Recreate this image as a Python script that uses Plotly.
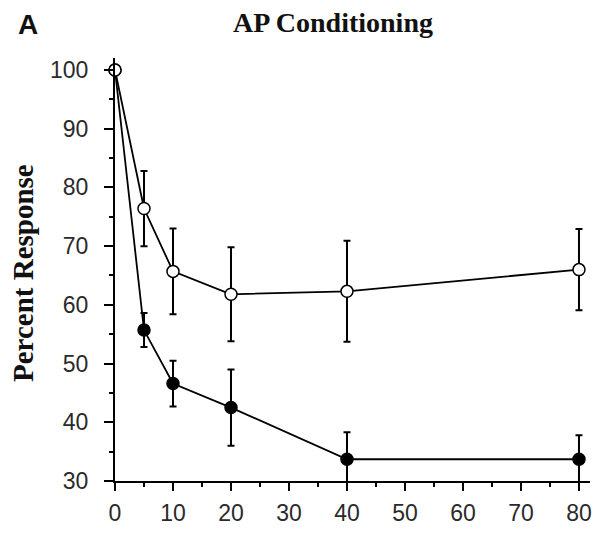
import plotly.graph_objects as go

time_points = [0, 5, 10, 20, 40, 80]
open_values = [100, 76.4, 65.7, 61.8, 62.3, 66.0]
open_errors = [0, 6.4, 7.3, 8.0, 8.6, 6.9]
filled_values = [100, 55.7, 46.6, 42.5, 33.7, 33.7]
filled_errors = [0, 2.9, 3.9, 6.5, 4.6, 4.1]
x_ticks = [0, 10, 20, 30, 40, 50, 60, 70, 80]
y_ticks = [30, 40, 50, 60, 70, 80, 90, 100]

W, H = 610, 534
ML, MR, MT, MB = 107, 28, 50, 61
plot_w = W - ML - MR
plot_h = H - MT - MB


def px_to_paper(px, py):
    return (px - ML) / plot_w, (H - MB - py) / plot_h


fig = go.Figure()

fig.add_trace(go.Scatter(
    x=time_points, y=filled_values, mode="lines+markers",
    line=dict(color="black", width=1.8),
    marker=dict(symbol="circle", size=12, color="black", line=dict(color="black", width=1.5)),
    error_y=dict(type="data", array=filled_errors, visible=True, color="black", thickness=2, width=3.5),
    cliponaxis=False, showlegend=False,
))
fig.add_trace(go.Scatter(
    x=time_points, y=open_values, mode="lines+markers",
    line=dict(color="black", width=1.8),
    marker=dict(symbol="circle", size=12, color="white", line=dict(color="black", width=1.5)),
    error_y=dict(type="data", array=open_errors, visible=True, color="black", thickness=2, width=3.5),
    cliponaxis=False, showlegend=False,
))

tick_font = dict(family="Liberation Sans", size=23, color="#2a2a2a")

fig.update_layout(
    width=W, height=H,
    margin=dict(l=ML, r=MR, t=MT, b=MB, autoexpand=False),
    paper_bgcolor="white", plot_bgcolor="white",
    xaxis=dict(
        range=[0, 81.9], tickvals=x_ticks, showgrid=False, zeroline=False,
        showline=True, linecolor="black", linewidth=2,
        ticks="outside", ticklen=8, tickwidth=2, tickcolor="black",
        minor=dict(dtick=5, tick0=0, ticks="outside", ticklen=4, tickwidth=1.5, tickcolor="black"),
        tickfont=tick_font, ticklabelstandoff=2,
    ),
    yaxis=dict(
        range=[30, 102.04], tickvals=y_ticks, showgrid=False, zeroline=False,
        showline=True, linecolor="black", linewidth=2,
        ticks="outside", ticklen=9, tickwidth=2, tickcolor="black",
        minor=dict(dtick=5, tick0=0, ticks="outside", ticklen=4, tickwidth=1.5, tickcolor="black"),
        tickfont=tick_font, ticklabelstandoff=11,
    ),
)

tx, ty = px_to_paper(325, 14)
ax_, ay_ = px_to_paper(20, 0)
yx, yy = px_to_paper(15, 265)

fig.add_annotation(text="<b>AP Conditioning</b>", x=tx, y=ty, xref="paper", yref="paper",
                   xanchor="center", yanchor="middle", showarrow=False,
                   font=dict(family="Liberation Serif", size=28, color="#111111"))
fig.add_annotation(text="<b>A</b>", x=ax_, y=ay_, xref="paper", yref="paper",
                   xanchor="center", yanchor="top", showarrow=False, borderpad=0,
                   font=dict(family="Liberation Sans", size=28, color="#111111"))
fig.add_annotation(text="<b>Percent Response</b>", x=yx, y=yy, xref="paper", yref="paper",
                   xanchor="center", yanchor="middle", showarrow=False, textangle=-90,
                   font=dict(family="Liberation Serif", size=29, color="#111111"))

fig.write_html("out.html")
